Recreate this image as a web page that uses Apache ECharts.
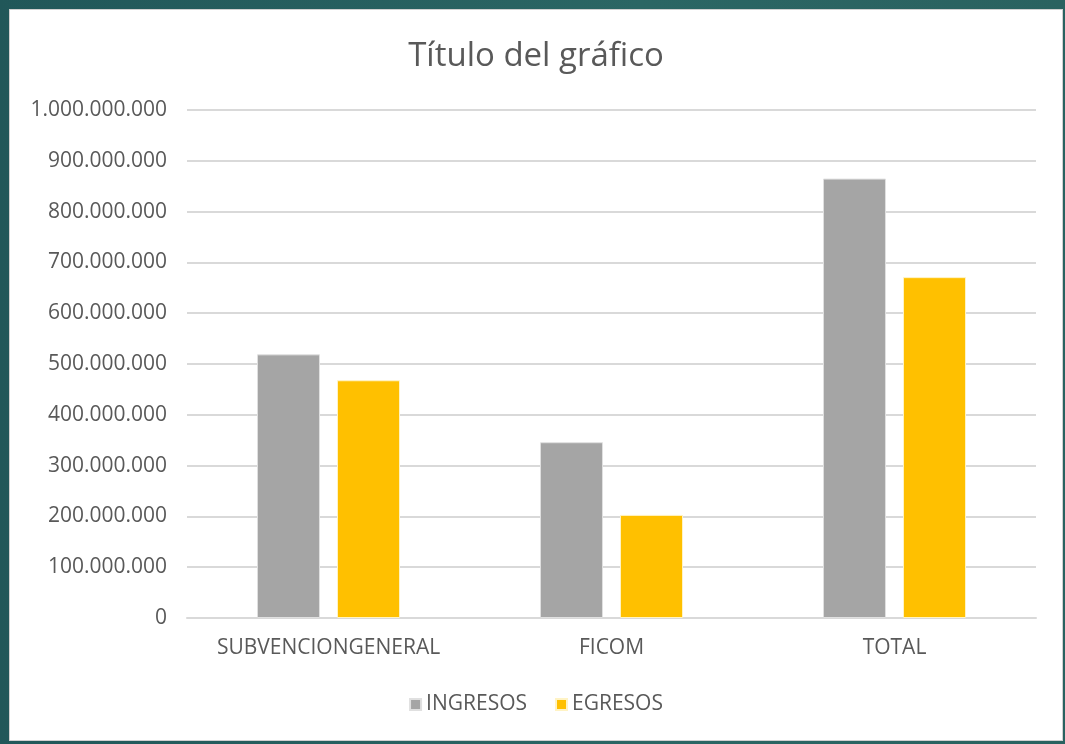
<!DOCTYPE html>
<html>
<head>
<meta charset="utf-8">
<script src="https://cdn.jsdelivr.net/npm/echarts@6/dist/echarts.min.js"></script>
<style>
html,body{margin:0;padding:0;width:1065px;height:744px;overflow:hidden;background:linear-gradient(90deg,#215759 0%,#2b6664 60%,#2a6260 100%);}
#chart{position:absolute;left:9px;top:9px;width:1052px;height:730px;background:#fff;border:1px solid #d0d0d0;}
</style>
</head>
<body>
<div id="chart"></div>
<script>
const categories = ['SUBVENCIONGENERAL', 'FICOM', 'TOTAL'];
const ingresos = [519000000, 346000000, 865000000];
const egresos = [468000000, 203000000, 671000000];
const seriesNames = ['INGRESOS', 'EGRESOS'];
const titleText = 'Título del gráfico';

function fmt(v){return String(v).replace(/\B(?=(\d{3})+(?!\d))/g,'.');}

const chart = echarts.init(document.getElementById('chart'));
const font = 'Open Sans';
chart.setOption({
  animation:false,
  title:{text:titleText,left:'center',top:25,textStyle:{fontFamily:font,fontSize:33,fontWeight:'normal',color:'#595959'}},
  legend:{data:seriesNames,bottom:20,left:'center',itemWidth:11,itemHeight:11,itemGap:28,icon:'rect',
    textStyle:{fontFamily:font,fontSize:21,color:'#595959'}},
  grid:{left:177,right:26,top:100,bottom:122},
  xAxis:{type:'category',data:categories,axisTick:{show:false},
    axisLine:{lineStyle:{color:'#d9d9d9',width:2}},
    axisLabel:{fontFamily:font,fontSize:21,color:'#595959',margin:20,interval:0,hideOverlap:false}},
  yAxis:{type:'value',min:0,max:1000000000,interval:100000000,
    axisLine:{show:false},axisTick:{show:false},
    splitLine:{lineStyle:{color:'#d9d9d9',width:2}},
    axisLabel:{fontFamily:font,fontSize:21,color:'#595959',margin:20,formatter:fmt}},
  series:[
    {name:seriesNames[0],type:'bar',data:ingresos,barWidth:63,barGap:'27%',
      itemStyle:{color:'#a5a5a5',borderColor:'#e0e0e0',borderWidth:1}},
    {name:seriesNames[1],type:'bar',data:egresos,barWidth:63,
      itemStyle:{color:'#ffc000',borderColor:'#fff3c4',borderWidth:1}}
  ]
});
</script>
</body>
</html>
